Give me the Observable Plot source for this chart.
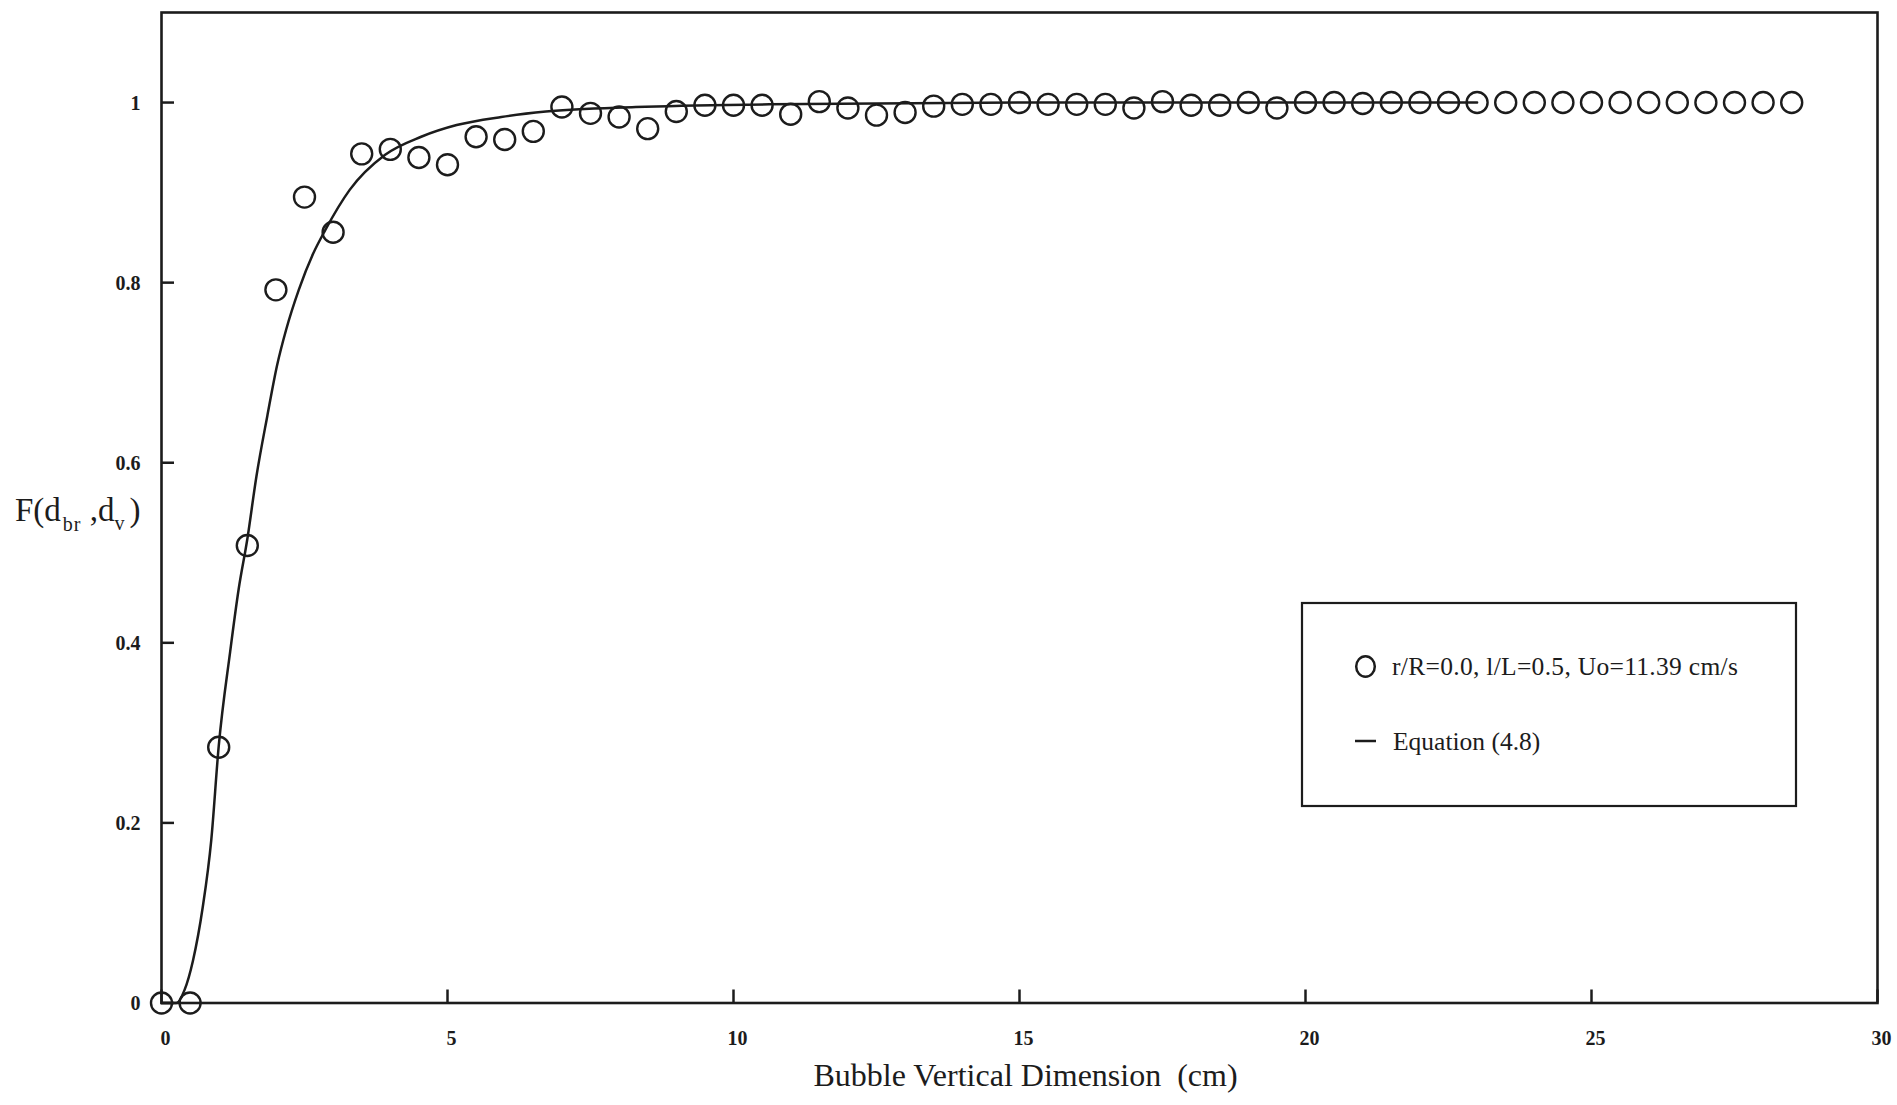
<!DOCTYPE html>
<html>
<head>
<meta charset="utf-8">
<script src="https://cdn.jsdelivr.net/npm/d3@7"></script>
<script src="https://cdn.jsdelivr.net/npm/@observablehq/plot@0.6"></script>
<style>
  html, body { margin: 0; padding: 0; background: #ffffff; }
  #chart { position: relative; width: 1897px; height: 1105px; }
  #chart svg { display: block; }
</style>
</head>
<body>
<div id="chart"></div>
<script>
// ---- data ----
const bubbleDim = [
  0, 0.5, 1, 1.5, 2, 2.5, 3, 3.5, 4, 4.5,
  5, 5.5, 6, 6.5, 7, 7.5, 8, 8.5, 9, 9.5,
  10, 10.5, 11, 11.5, 12, 12.5, 13, 13.5, 14, 14.5,
  15, 15.5, 16, 16.5, 17, 17.5, 18, 18.5, 19, 19.5,
  20, 20.5, 21, 21.5, 22, 22.5, 23, 23.5, 24, 24.5,
  25, 25.5, 26, 26.5, 27, 27.5, 28, 28.5
];
const fMeasured = [
  0, 0, 0.284, 0.508, 0.792, 0.895, 0.856, 0.943, 0.948, 0.939,
  0.931, 0.962, 0.959, 0.968, 0.995, 0.988, 0.984, 0.971, 0.990, 0.997,
  0.997, 0.997, 0.987, 1.001, 0.994, 0.986, 0.989, 0.996, 0.998, 0.998,
  1.0, 0.998, 0.998, 0.998, 0.994, 1.001, 0.997, 0.997, 1.0, 0.994,
  1.0, 1.0, 0.999, 1.0, 1.0, 1.0, 1.0, 1.0, 1.0, 1.0,
  1.0, 1.0, 1.0, 1.0, 1.0, 1.0, 1.0, 1.0
];
// Equation (4.8) curve
const eqX = [0, 0.26, 0.40, 0.55, 0.72, 0.87, 1.0, 1.2, 1.35, 1.5, 1.66, 1.85, 2.02, 2.18, 2.4, 2.65, 2.86, 3.29, 3.91, 4.54, 5.16, 5.94, 6.72, 8.29, 10.63, 15, 23];
const eqY = [0, 0, 0.014, 0.047, 0.106, 0.181, 0.285, 0.39, 0.46, 0.515, 0.585, 0.652, 0.708, 0.748, 0.792, 0.832, 0.858, 0.903, 0.942, 0.962, 0.975, 0.984, 0.990, 0.995, 0.998, 1.0, 1.0];

const xTickValues = [0, 5, 10, 15, 20, 25, 30];
const yTickValues = [0, 0.2, 0.4, 0.6, 0.8, 1];
const xAxisTitle = "Bubble Vertical Dimension\u00a0 (cm)";
const legendSeries = "r/R=0.0, l/L=0.5, Uo=11.39 cm/s";
const legendEquation = "Equation (4.8)";

// ---- tables built from the arrays ----
const points = bubbleDim.map((x, i) => ({x, y: fMeasured[i]}));
const curve = eqX.map((x, i) => ({x, y: eqY[i]}));

const ink = "#1c1c1c";
const serif = "'Liberation Serif', 'Times New Roman', serif";
const plainNumber = d => String(d);

const plot = Plot.plot({
  width: 1897,
  height: 1105,
  marginLeft: 161,
  marginRight: 20,
  marginTop: 12,
  marginBottom: 102.5,
  style: {fontFamily: serif, background: "#ffffff", color: ink},
  x: {domain: [0, 30]},
  y: {domain: [0, 1.1]},
  marks: [
    Plot.frame({stroke: ink, strokeWidth: 2.6}),
    // inward tick marks
    Plot.ruleX(xTickValues, {x: d => d, y1: 0, y2: 0, insetTop: -13, stroke: ink, strokeWidth: 2.5}),
    Plot.ruleY(yTickValues, {y: d => d, x1: 0, x2: 0, insetRight: -13, stroke: ink, strokeWidth: 2.5}),
    Plot.axisX(xTickValues, {tickSize: 0, tickPadding: 28, fontSize: 20, fontWeight: "bold", dx: 4, label: null, fill: ink, tickFormat: plainNumber}),
    Plot.axisY(yTickValues, {tickSize: 0, tickPadding: 21, fontSize: 20, fontWeight: "bold", dy: 1, label: null, fill: ink, tickFormat: plainNumber}),
    Plot.line(curve, {x: "x", y: "y", curve: "monotone-x", stroke: ink, strokeWidth: 2.5}),
    Plot.dot(points, {x: "x", y: "y", r: 10.5, stroke: ink, strokeWidth: 2.4, fill: "none"}),
    Plot.text([xAxisTitle], {text: d => d, frameAnchor: "bottom", lineAnchor: "middle", dy: 73, dx: 6, fontSize: 32, fill: ink})
  ]
});

document.getElementById("chart").appendChild(plot);

const svg = d3.select(plot);

// y axis title with subscripts
const yt = svg.append("text")
  .attr("x", 15).attr("y", 521)
  .attr("text-anchor", "start")
  .attr("font-family", serif).attr("font-size", 33).attr("fill", ink)
  .style("white-space", "pre");
yt.append("tspan").text("F(d");
yt.append("tspan").attr("font-size", 20).attr("dy", 10).attr("dx", 2).attr("letter-spacing", 1).text("br");
yt.append("tspan").attr("dy", -10).text(" ,d");
yt.append("tspan").attr("font-size", 20).attr("dy", 9).text("v");
yt.append("tspan").attr("dy", -9).attr("dx", 5).text(")");

// legend box
const lg = svg.append("g").attr("font-family", serif).attr("fill", ink).attr("text-anchor", "start");
lg.append("rect").attr("x", 1302).attr("y", 603).attr("width", 494).attr("height", 203)
  .attr("fill", "#ffffff").attr("stroke", ink).attr("stroke-width", 2.2);
lg.append("ellipse").attr("cx", 1365.5).attr("cy", 666.5).attr("rx", 9.3).attr("ry", 10.3)
  .attr("fill", "none").attr("stroke", ink).attr("stroke-width", 2.5);
lg.append("text").attr("x", 1392).attr("y", 675).attr("font-size", 25.5).attr("letter-spacing", 0.3).text(legendSeries);
lg.append("line").attr("x1", 1355).attr("x2", 1376).attr("y1", 741).attr("y2", 741)
  .attr("stroke", ink).attr("stroke-width", 2.5);
lg.append("text").attr("x", 1393).attr("y", 750).attr("font-size", 25.5).text(legendEquation);
</script>
</body>
</html>
